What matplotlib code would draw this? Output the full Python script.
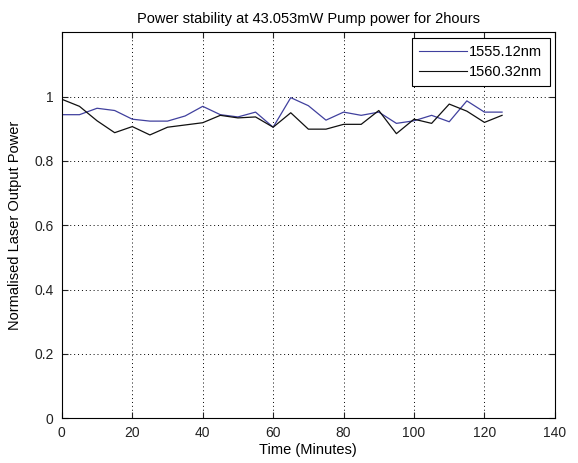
import numpy as np
import matplotlib
matplotlib.use('Agg')
import matplotlib.pyplot as plt

plt.rcParams['font.family'] = ['Liberation Sans', 'DejaVu Sans']

# Time axis (minutes) and normalised output power readings
time_min = [0, 5, 10, 15, 20, 25, 30, 35, 40, 45, 50, 55, 60,
            65, 70, 75, 80, 85, 90, 95, 100, 105, 110, 115, 120, 125]
power_1555 = [0.944, 0.944, 0.964, 0.957, 0.930, 0.924, 0.924, 0.940, 0.970,
              0.944, 0.937, 0.952, 0.905, 0.997, 0.972, 0.927, 0.952, 0.942,
              0.952, 0.917, 0.925, 0.942, 0.922, 0.987, 0.952, 0.952]
power_1560 = [0.992, 0.970, 0.925, 0.888, 0.907, 0.881, 0.905, 0.912, 0.919,
              0.942, 0.934, 0.937, 0.905, 0.950, 0.899, 0.899, 0.914, 0.914,
              0.957, 0.885, 0.930, 0.917, 0.977, 0.955, 0.920, 0.942]
labels = ['1555.12nm', '1560.32nm']

x_ticks = [0, 20, 40, 60, 80, 100, 120, 140]
y_ticks = [0, 0.2, 0.4, 0.6, 0.8, 1]
y_tick_labels = ['0', '0.2', '0.4', '0.6', '0.8', '1']

fig = plt.figure(figsize=(5.78, 4.63), dpi=100)
ax = fig.add_axes([0.107, 0.097, 0.853, 0.833])

ax.plot(time_min, power_1555, color='#40409e', linewidth=0.9, label=labels[0])
ax.plot(time_min, power_1560, color='#101010', linewidth=0.9, label=labels[1])

ax.set_xlim(0, 140)
ax.set_ylim(0, 1.2)
ax.set_xticks(x_ticks)
ax.set_yticks(y_ticks)
ax.set_yticklabels(y_tick_labels)
ax.tick_params(direction='in', length=4, width=0.8, top=True, right=True,
               labelsize=10, pad=6, colors='#222222')
ax.grid(True, linestyle=(0, (1, 3)), color='black', linewidth=0.7)
for s in ax.spines.values():
    s.set_linewidth(0.8)

ax.set_xlabel('Time (Minutes)', fontsize=10.5, labelpad=2)
ax.set_ylabel('Normalised Laser Output Power', fontsize=10.5, labelpad=9)
ax.set_title('Power stability at 43.053mW Pump power for 2hours', fontsize=10.5, pad=7)

leg = ax.legend(loc='upper right', fontsize=10.5, fancybox=False, framealpha=1,
                edgecolor='black', handlelength=3.3, handletextpad=0.15,
                labelspacing=0.4, borderpad=0.5, borderaxespad=0.35)
leg.get_frame().set_linewidth(0.8)
for line in leg.get_lines():
    line.set_linewidth(0.8)

fig.savefig('out.png', dpi=100)
